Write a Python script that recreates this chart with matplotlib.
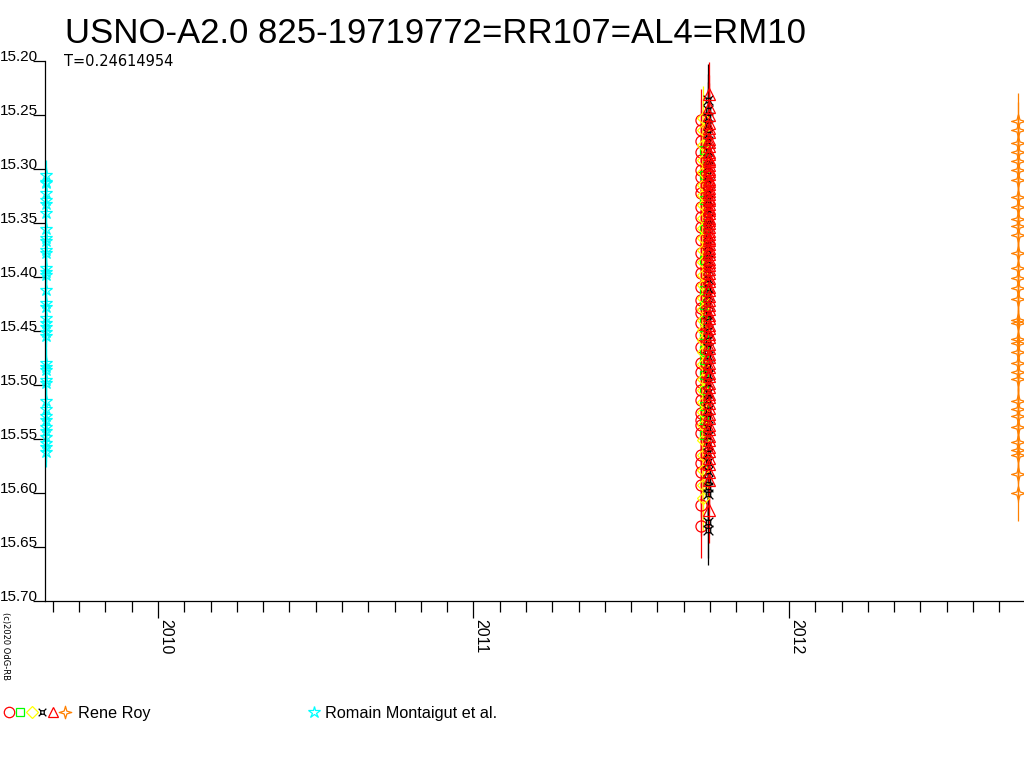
import matplotlib
matplotlib.use('Agg')
import matplotlib.pyplot as plt
from matplotlib.path import Path
import numpy as np

# ---------------- data ----------------
title = "USNO-A2.0 825-19719772=RR107=AL4=RM10"
subtitle = "T=0.24614954"

# Romain Montaigut et al. (cyan stars)
cyan_x = 2009.645
cyan_y = [15.306, 15.312, 15.313, 15.322, 15.329, 15.332, 15.341, 15.356, 15.364,
          15.367, 15.375, 15.378, 15.392, 15.395, 15.398, 15.412, 15.424, 15.428,
          15.438, 15.443, 15.446, 15.451, 15.455, 15.480, 15.483, 15.486, 15.495,
          15.498, 15.515, 15.522, 15.529, 15.532, 15.539, 15.543, 15.548, 15.554,
          15.557, 15.562]
cyan_err = 0.014

# Rene Roy - red circles
rc_x = 2011.720
rc_y = [15.255, 15.264, 15.274, 15.284, 15.292, 15.301, 15.307, 15.317, 15.322,
        15.335, 15.344, 15.354, 15.366, 15.378, 15.387, 15.396, 15.409, 15.421,
        15.429, 15.433, 15.443, 15.454, 15.465, 15.480, 15.488, 15.497, 15.505,
        15.514, 15.526, 15.532, 15.537, 15.544, 15.565, 15.572, 15.581, 15.593,
        15.611, 15.631]
rc_err = 0.029

# Rene Roy - yellow diamonds
yd_x = 2011.729
yd_y = [15.253, 15.264, 15.278, 15.292, 15.303, 15.315, 15.324, 15.333, 15.345,
        15.355, 15.364, 15.375, 15.386, 15.398, 15.407, 15.419, 15.430, 15.440,
        15.449, 15.458, 15.469, 15.481, 15.494, 15.505, 15.516, 15.525, 15.537,
        15.551, 15.565, 15.579, 15.593, 15.605]
yd_err = 0.03

# Rene Roy - green squares
gs_x = 2011.730
gs_y = [15.282, 15.306, 15.329, 15.356, 15.384, 15.412, 15.426, 15.440, 15.454,
        15.468, 15.477, 15.491, 15.505, 15.519, 15.532, 15.546]
gs_err = 0.01

# Rene Roy - black crosses
bk_x = 2011.744
bk_y = [15.236, 15.245, 15.252, 15.259, 15.268, 15.274, 15.283, 15.291, 15.297,
        15.306, 15.313, 15.322, 15.329, 15.337, 15.346, 15.352, 15.361, 15.370,
        15.378, 15.384, 15.393, 15.402, 15.410, 15.417, 15.425, 15.434, 15.441,
        15.450, 15.458, 15.466, 15.473, 15.482, 15.491, 15.498, 15.507, 15.514,
        15.523, 15.531, 15.540, 15.547, 15.556, 15.563, 15.571, 15.580, 15.588,
        15.594, 15.601, 15.627, 15.634]
bk_err = 0.033

# Rene Roy - red triangles
rt_x = 2011.747
rt_y = [15.231, 15.243, 15.250, 15.257, 15.262, 15.266, 15.272, 15.275, 15.279,
        15.284, 15.286, 15.291, 15.293, 15.296, 15.300, 15.302, 15.305, 15.309,
        15.311, 15.314, 15.318, 15.320, 15.323, 15.327, 15.329, 15.332, 15.336,
        15.338, 15.341, 15.345, 15.347, 15.350, 15.354, 15.357, 15.360, 15.364,
        15.366, 15.369, 15.373, 15.376, 15.379, 15.383, 15.386, 15.389, 15.393,
        15.396, 15.401, 15.404, 15.409, 15.412, 15.418, 15.421, 15.426, 15.430,
        15.435, 15.438, 15.444, 15.447, 15.453, 15.456, 15.462, 15.466, 15.471,
        15.474, 15.480, 15.483, 15.489, 15.492, 15.498, 15.502, 15.508, 15.511,
        15.517, 15.521, 15.527, 15.531, 15.537, 15.541, 15.547, 15.551, 15.557,
        15.561, 15.568, 15.573, 15.581, 15.588, 15.616]
rt_err = 0.03

# Rene Roy - orange four-point stars
or_x = 2012.726
or_y = [15.256, 15.264, 15.276, 15.284, 15.293, 15.301, 15.310, 15.326, 15.335,
        15.346, 15.353, 15.361, 15.378, 15.392, 15.401, 15.410, 15.420, 15.440,
        15.443, 15.457, 15.461, 15.469, 15.480, 15.488, 15.494, 15.515, 15.522,
        15.529, 15.539, 15.553, 15.560, 15.565, 15.582, 15.600]
or_err = 0.026

year_ticks = [2010, 2011, 2012]
y_ticks = [15.20, 15.25, 15.30, 15.35, 15.40, 15.45, 15.50, 15.55, 15.60, 15.65, 15.70]
legend_left = "Rene Roy"
legend_right = "Romain Montaigut et al."

# ---------------- markers ----------------
cross_marker = Path(
    [(-0.45, -0.45), (0.45, -0.45), (0.45, 0.45), (-0.45, 0.45), (-0.45, -0.45),
     (0.45, 0.45), (1, 1), (-0.45, 0.45), (-1, 1), (0.45, -0.45), (1, -1),
     (-0.45, -0.45), (-1, -1)],
    [Path.MOVETO, Path.LINETO, Path.LINETO, Path.LINETO, Path.LINETO,
     Path.MOVETO, Path.LINETO, Path.MOVETO, Path.LINETO, Path.MOVETO, Path.LINETO,
     Path.MOVETO, Path.LINETO])
star4_marker = Path(
    [(0, 1), (0.22, 0.22), (1, 0), (0.22, -0.22), (0, -1), (-0.22, -0.22),
     (-1, 0), (-0.22, 0.22), (0, 1)],
    [Path.MOVETO] + [Path.LINETO] * 7 + [Path.CLOSEPOLY])

RED = '#ff0000'
YEL = '#ffff00'
GRN = '#00ff00'
BLK = '#000000'
ORA = '#ff8000'
CYA = '#00ffff'

W, H = 1024, 768
fig = plt.figure(figsize=(W / 100, H / 100), dpi=100)
ax = fig.add_axes([45 / W, 1 - 601 / H, 1 - 45 / W, (601 - 61) / H])

for s in ('top', 'right'):
    ax.spines[s].set_visible(False)
for s in ('left', 'bottom'):
    ax.spines[s].set_linewidth(0.9)
    ax.spines[s].set_zorder(5)


def series(x, ys, err, color, marker, ms, mew=0.9):
    xs = [x] * len(ys)
    ax.errorbar(xs, ys, yerr=err, fmt='none', ecolor=color, elinewidth=0.9,
                capsize=0, zorder=2, clip_on=False)
    ax.plot(xs, ys, linestyle='none', marker=marker, ms=ms, mfc='none',
            mec=color, mew=mew, zorder=3, clip_on=False)


series(cyan_x, cyan_y, cyan_err, CYA, '*', 9)
series(rc_x, rc_y, rc_err, RED, 'o', 8)
series(gs_x, gs_y, gs_err, GRN, 's', 5.5)
series(yd_x, yd_y, yd_err, YEL, 'D', 6.5)
series(bk_x, bk_y, bk_err, BLK, cross_marker, 7)
series(rt_x, rt_y, rt_err, RED, '^', 8.5)
series(or_x, or_y, or_err, ORA, star4_marker, 10)

ax.set_xlim(2009.642, 2012.745)
ax.set_ylim(15.70, 15.20)

# y axis
ax.set_yticks(y_ticks)
ax.set_yticklabels([f"{v:.2f}" for v in y_ticks], fontsize=11,
                   fontfamily='Liberation Sans')
ax.tick_params(axis='y', direction='out', length=9, width=0.9, pad=-4)
for lab in ax.get_yticklabels():
    lab.set_verticalalignment('baseline')

# x axis
ax.set_xticks(year_ticks)
ax.set_xticklabels([str(y) for y in year_ticks], rotation=270, ha='left', va='top',
                   fontsize=11.5, fontfamily='Liberation Sans')
minor = [y0 + m / 12 for y0 in range(2009, 2013) for m in range(1, 12)]
minor = [m for m in minor if 2009.642 <= m <= 2012.745]
ax.set_xticks(minor, minor=True)
ax.tick_params(axis='x', which='major', direction='out', length=12, width=0.9, pad=1)
ax.tick_params(axis='x', which='minor', direction='out', length=8, width=0.9)
ax.set_xlim(2009.642, 2012.745)

# texts
fig.text(65 / W, 1 - 43 / H, title, fontsize=25, fontfamily='Liberation Sans',
         va='baseline', ha='left')
fig.text(64 / W, 1 - 66 / H, subtitle, fontsize=10.5, fontfamily='DejaVu Sans',
         va='baseline', ha='left')
fig.text(1 / W, 1 - 612 / H, "(c)2020 OdG-RB", rotation=270, fontsize=6,
         fontfamily='DejaVu Sans', ha='left', va='top')

# legend drawn in pixel coordinates
lax = fig.add_axes([0, 0, 1, 1])
lax.set_xlim(0, W)
lax.set_ylim(H, 0)
lax.axis('off')
ly = 712
leg = [(9, RED, 'o', 7.5), (20, GRN, 's', 5.5), (32, YEL, 'D', 6.5),
       (42, BLK, cross_marker, 5.5), (53, RED, '^', 7), (65, ORA, star4_marker, 9),
       (314, CYA, '*', 9)]
for x, c, m, ms in leg:
    lax.plot([x], [ly], linestyle='none', marker=m, ms=ms, mfc='none', mec=c, mew=0.9)
lax.text(78, 718, legend_left, fontsize=11.7, fontfamily='Liberation Sans', va='baseline')
lax.text(325, 718, legend_right, fontsize=11.7, fontfamily='Liberation Sans', va='baseline')

fig.savefig('out.png', dpi=100)
